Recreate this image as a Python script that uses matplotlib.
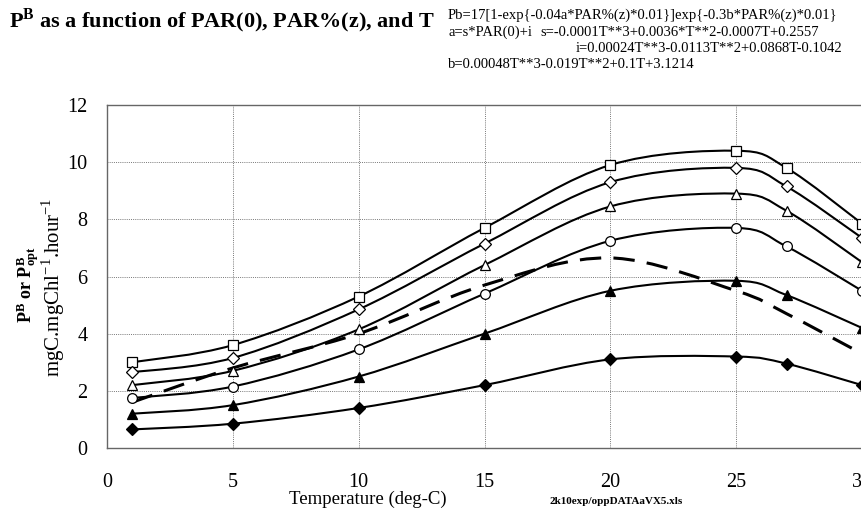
import numpy as np
import matplotlib.pyplot as plt
from matplotlib.path import Path
from matplotlib.patches import PathPatch

plt.rcParams['font.family'] = ['Liberation Serif', 'DejaVu Serif']
plt.rcParams['mathtext.fontset'] = 'custom'
plt.rcParams['mathtext.rm'] = 'Liberation Serif'
plt.rcParams['mathtext.bf'] = 'Liberation Serif:bold'

temps = [1, 5, 10, 15, 20, 25, 27, 30]

pb_square = [3.0, 3.6, 5.3, 7.7, 9.9, 10.4, 9.8, 7.85]
pb_odiamond = [2.65, 3.15, 4.85, 7.15, 9.3, 9.8, 9.15, 7.35]
pb_otriangle = [2.2, 2.7, 4.15, 6.4, 8.45, 8.9, 8.3, 6.5]
pb_circle = [1.75, 2.15, 3.45, 5.4, 7.25, 7.7, 7.05, 5.5]
pb_ftriangle = [1.2, 1.5, 2.5, 4.0, 5.5, 5.85, 5.35, 4.2]
pb_fdiamond = [0.65, 0.85, 1.4, 2.2, 3.1, 3.2, 2.95, 2.2]
pb_opt = [1.6, 2.8, 4.0, 5.7, 6.65, 5.5, 4.7, 3.3]


def smooth_path(x, y):
    # Catmull-Rom style bezier, the way spreadsheet "smoothed lines" look
    pts = np.column_stack([x, y]).astype(float)
    ext = np.vstack([pts[0], pts, pts[-1]])
    verts = [pts[0]]
    codes = [Path.MOVETO]
    for i in range(1, len(ext) - 2):
        p0, p1, p2, p3 = ext[i - 1], ext[i], ext[i + 1], ext[i + 2]
        verts += [p1 + (p2 - p0) / 6.0, p2 - (p3 - p1) / 6.0, p2]
        codes += [Path.CURVE4] * 3
    return Path(verts, codes)


fig = plt.figure(figsize=(8.61, 5.14), dpi=100)
ax = fig.add_axes([107 / 861, 66 / 514, 755 / 861, 343 / 514])

series = [
    (pb_square, dict(marker='s', ms=7, mfc='white')),
    (pb_odiamond, dict(marker='D', ms=6, mfc='white')),
    (pb_otriangle, dict(marker='^', ms=7.5, mfc='white')),
    (pb_circle, dict(marker='o', ms=7, mfc='white')),
    (pb_ftriangle, dict(marker='^', ms=7.5, mfc='black')),
    (pb_fdiamond, dict(marker='D', ms=6, mfc='black')),
]

for vals, style in series:
    ax.add_patch(PathPatch(smooth_path(temps, vals), fc='none', ec='black',
                           lw=1.5, zorder=3))
    ax.plot(temps, vals, ls='none', mec='black', mew=0.9, zorder=4, **style)

ax.add_patch(PathPatch(smooth_path(temps, pb_opt), fc='none', ec='black',
                       lw=2.2, ls=(0, (7, 4)), zorder=3))

ax.set_xlim(0, 30)
ax.set_ylim(0, 12)
ax.set_xticks(range(0, 31, 5))
ax.set_yticks(range(0, 13, 2))
ax.tick_params(length=0, labelsize=14.5)
ax.tick_params(axis='x', pad=18)
ax.tick_params(axis='y', pad=14)
ax.grid(True, color='#777777', lw=0.7, ls=(0, (1, 1.2)))
ax.set_axisbelow(True)
for sp in ax.spines.values():
    sp.set_color('#666666')
    sp.set_linewidth(1.0)

fig.text(368 / 861, 1 - 499 / 514, 'Temperature (deg-C)', ha='center',
         va='center', fontsize=13.5)
fig.text(616 / 861, 1 - 501 / 514, '2k10exp/oppDATAaVX5.xls', ha='center',
         va='center', fontsize=8, fontweight='bold')

fig.text(28 / 861, 1 - 285 / 514, r'$\mathbf{P^B}$ or $\mathbf{P^B_{opt}}$',
         rotation=90, ha='center', va='center', fontsize=13,
         fontweight='bold')
fig.text(53 / 861, 1 - 287 / 514, r'mgC.mgChl$^{-1}$.hour$^{-1}$',
         rotation=90, ha='center', va='center', fontsize=15)

fig.text(9 / 861, 1 - 21 / 514, r'P$^{\mathbf{B}}$ as a function of PAR(0), PAR%(z), and T',
         ha='left', va='center', fontsize=16, fontweight='bold')

eq_lines = [
    (448, 15, 'Pb=17[1-exp{-0.04a*PAR%(z)*0.01}]exp{-0.3b*PAR%(z)*0.01}'),
    (448, 32, 'a=s*PAR(0)+i'),
    (540, 32, 's=-0.0001T**3+0.0036*T**2-0.0007T+0.2557'),
    (576, 48, 'i=0.00024T**3-0.0113T**2+0.0868T-0.1042'),
    (448, 64, 'b=0.00048T**3-0.019T**2+0.1T+3.1214'),
]
for x, y, s in eq_lines:
    fig.text(x / 861, 1 - y / 514, s, ha='left', va='center', fontsize=10.5)

fig.savefig('out.png', dpi=100)
